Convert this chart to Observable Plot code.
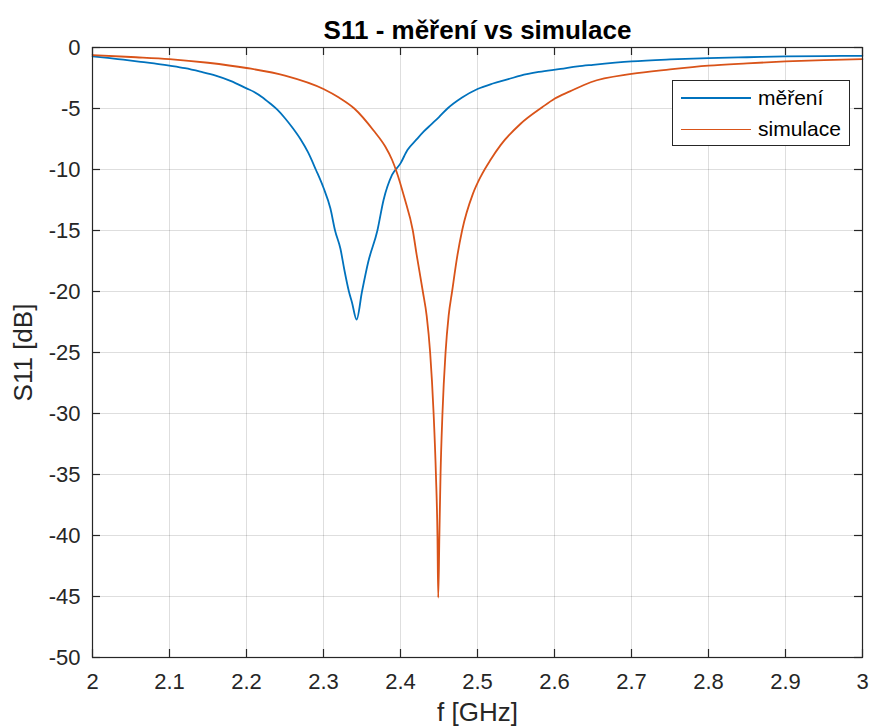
<!DOCTYPE html>
<html>
<head>
<meta charset="utf-8">
<script src="https://cdn.jsdelivr.net/npm/d3@7"></script>
<script src="https://cdn.jsdelivr.net/npm/@observablehq/plot@0.6"></script>
<style>
  html, body { margin: 0; padding: 0; background: #fff; }
  #wrap { position: relative; width: 870px; height: 727px; font-family: "Liberation Sans", Arial, sans-serif; }
  #wrap svg { position: absolute; left: 0; top: 0; }
  #legend { position: absolute; left: 672px; top: 80px; width: 176px; height: 64px; border: 1px solid #262626; background: #fff; font-size: 21px; color: #000; }
  .row { position: absolute; left: 0; height: 26px; display: flex; align-items: center; }
  .sw { width: 70px; height: 0; margin-left: 8px; margin-right: 7px; border-top-width: 2px; border-top-style: solid; }
</style>
</head>
<body>
<div id="wrap">
  <div id="legend"></div>
</div>
<script>
// Measured S11 (blue)
const measF  = [2.00, 2.02, 2.04, 2.06, 2.08, 2.10, 2.12, 2.14, 2.16, 2.18, 2.20, 2.21, 2.22, 2.23, 2.24, 2.25, 2.26, 2.27, 2.28, 2.29, 2.30, 2.309, 2.315, 2.322, 2.327, 2.333, 2.337, 2.343, 2.350, 2.358, 2.370, 2.378, 2.389, 2.400, 2.409, 2.42, 2.43, 2.44, 2.45, 2.461, 2.48, 2.50, 2.52, 2.54, 2.556, 2.58, 2.608, 2.63, 2.65, 2.70, 2.75, 2.80, 2.85, 2.90, 2.95, 3.00];
const measDb = [-0.72, -0.85, -1.0, -1.15, -1.3, -1.49, -1.7, -1.98, -2.3, -2.75, -3.35, -3.65, -4.05, -4.55, -5.1, -5.8, -6.6, -7.5, -8.6, -10.0, -11.5, -13.2, -15.0, -16.5, -18.2, -20.0, -20.9, -22.3, -20.0, -17.6, -15.0, -12.5, -10.45, -9.5, -8.4, -7.6, -6.9, -6.3, -5.7, -5.0, -4.1, -3.4, -2.95, -2.6, -2.3, -2.0, -1.76, -1.55, -1.42, -1.14, -0.98, -0.87, -0.8, -0.73, -0.7, -0.68];

// Simulated S11 (red)
const simF  = [2.00, 2.05, 2.10, 2.15, 2.20, 2.25, 2.30, 2.32, 2.34, 2.365, 2.38, 2.389, 2.395, 2.405, 2.416, 2.421, 2.429, 2.434, 2.4385, 2.443, 2.446, 2.448, 2.449, 2.4505, 2.452, 2.4545, 2.4585, 2.4625, 2.467, 2.474, 2.48, 2.494, 2.504, 2.517, 2.53, 2.556, 2.584, 2.60, 2.62, 2.647, 2.70, 2.75, 2.80, 2.85, 2.90, 2.95, 3.00];
const simDb = [-0.62, -0.78, -0.95, -1.25, -1.68, -2.3, -3.4, -4.1, -5.0, -6.8, -8.1, -9.2, -10.2, -12.3, -15.0, -17.0, -20.0, -22.0, -25.0, -30.0, -35.0, -40.0, -45.1, -40.0, -35.0, -30.0, -25.0, -22.0, -20.0, -17.0, -15.0, -12.0, -10.6, -9.2, -8.0, -6.25, -4.9, -4.2, -3.6, -2.85, -2.17, -1.8, -1.49, -1.3, -1.14, -1.03, -0.95];

const xTicks = [2.0, 2.1, 2.2, 2.3, 2.4, 2.5, 2.6, 2.7, 2.8, 2.9, 3.0];
const yTicks = [0, -5, -10, -15, -20, -25, -30, -35, -40, -45, -50];
const seriesNames = ["měření", "simulace"];
const seriesColors = ["#0072BD", "#D95319"];
const titleText = "S11 - měření vs simulace";
const xLabel = "f [GHz]";
const yLabel = "S11 [dB]";

const meas = measF.map((f, i) => ({f, db: measDb[i]}));
const sim = simF.map((f, i) => ({f, db: simDb[i]}));

const W = 870, H = 727, mL = 92, mR = 8, mT = 47, mB = 70;
const pw = W - mL - mR, ph = H - mT - mB;
const tk = 8;
const axisColor = "#262626";

const chart = Plot.plot({
  width: W,
  height: H,
  marginLeft: mL,
  marginRight: mR,
  marginTop: mT,
  marginBottom: mB,
  style: {fontFamily: "'Liberation Sans', Arial, sans-serif", fontSize: "22px", color: axisColor, background: "white", overflow: "visible"},
  x: {domain: [2, 3]},
  y: {domain: [-50, 0]},
  marks: [
    Plot.gridX(xTicks, {stroke: "#000", strokeOpacity: 0.13, strokeWidth: 1}),
    Plot.gridY(yTicks, {stroke: "#000", strokeOpacity: 0.13, strokeWidth: 1}),
    Plot.line(meas, {x: "f", y: "db", stroke: seriesColors[0], strokeWidth: 1.8, curve: "monotone-x"}),
    Plot.line(sim, {x: "f", y: "db", stroke: seriesColors[1], strokeWidth: 1.8, curve: "monotone-x"}),
    Plot.frame({stroke: axisColor, strokeWidth: 1.2}),
    Plot.tickX(xTicks, {x: d => d, insetTop: ph - tk, stroke: axisColor, strokeWidth: 1.2}),
    Plot.tickX(xTicks, {x: d => d, insetBottom: ph - tk, stroke: axisColor, strokeWidth: 1.2}),
    Plot.tickY(yTicks, {y: d => d, insetRight: pw - tk, stroke: axisColor, strokeWidth: 1.2}),
    Plot.tickY(yTicks, {y: d => d, insetLeft: pw - tk, stroke: axisColor, strokeWidth: 1.2}),
    Plot.axisX(xTicks, {anchor: "bottom", tickSize: 0, tickPadding: 16, tickFormat: d => String(+d.toFixed(1)), fontSize: 22, fill: axisColor, label: null}),
    Plot.axisY(yTicks, {anchor: "left", tickSize: 0, tickPadding: 12, tickFormat: d => String(d), fontSize: 22, fill: axisColor, label: null}),
    Plot.text([xLabel], {frameAnchor: "bottom", dy: 55, text: d => d, fontSize: 26, fill: axisColor, lineAnchor: "middle", textAnchor: "middle"}),
    Plot.text([yLabel], {frameAnchor: "left", dx: -69, rotate: -90, text: d => d, fontSize: 26, fill: axisColor, lineAnchor: "middle", textAnchor: "middle"}),
    Plot.text([titleText], {frameAnchor: "top", dy: -17, text: d => d, fontSize: 26, fontWeight: "bold", fill: "#000", lineAnchor: "middle", textAnchor: "middle"})
  ]
});

const wrap = document.getElementById("wrap");
wrap.insertBefore(chart, wrap.firstChild);

const legend = document.getElementById("legend");
seriesNames.forEach((name, i) => {
  const row = document.createElement("div");
  row.className = "row";
  row.style.top = (i === 0 ? 4 : 35) + "px";
  const sw = document.createElement("div");
  sw.className = "sw";
  sw.style.borderTopColor = seriesColors[i];
  sw.style.borderTopWidth = i === 0 ? "2.5px" : "1.5px";
  const tx = document.createElement("span");
  tx.textContent = name;
  row.appendChild(sw);
  row.appendChild(tx);
  legend.appendChild(row);
});
</script>
</body>
</html>
